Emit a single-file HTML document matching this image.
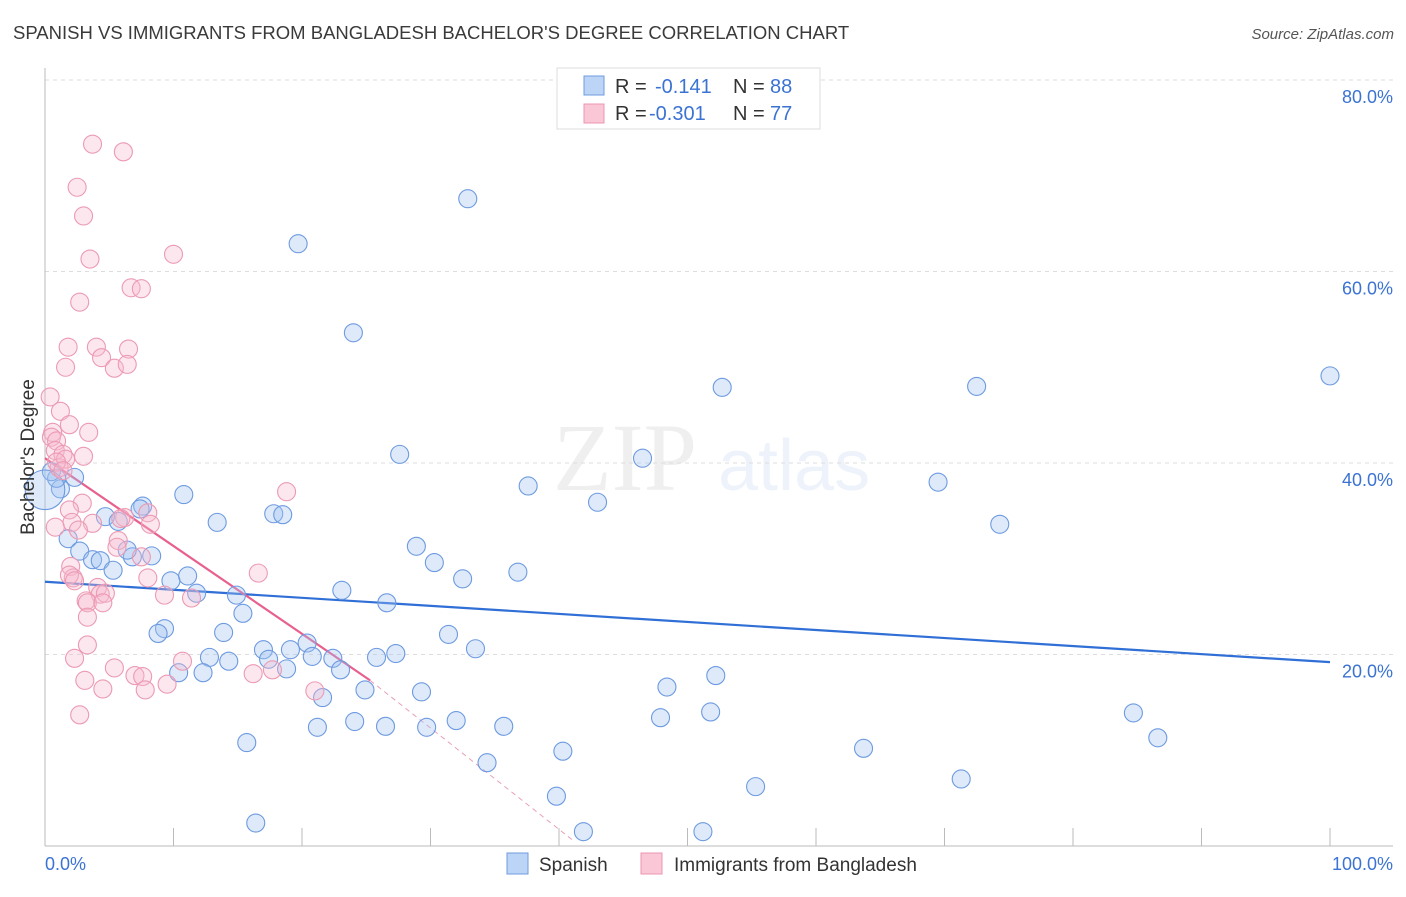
<!DOCTYPE html>
<html><head><meta charset="utf-8">
<style>
body{margin:0;background:#fff;width:1406px;height:892px;overflow:hidden;font-family:"Liberation Sans",sans-serif;}
</style></head>
<body>
<svg id="chart" width="1406" height="892" xmlns="http://www.w3.org/2000/svg">
<text x="13" y="39" font-size="18.5" fill="#3a3a3a">SPANISH VS IMMIGRANTS FROM BANGLADESH BACHELOR'S DEGREE CORRELATION CHART</text>
<text x="1394" y="39" font-size="15" fill="#555" font-style="italic" text-anchor="end">Source: ZipAtlas.com</text>
<g opacity="0.09">
<text x="553" y="490" font-family="Liberation Serif,serif" font-size="96" fill="#555">ZIP</text>
<text x="718" y="490" font-size="72" fill="#4a7fd6">atlas</text>
</g>
<g id="grid"></g>
<g id="axes"></g>
<g id="trend"></g>
<g id="points"></g>
<text transform="translate(34,457) rotate(-90)" font-size="19" fill="#333" text-anchor="middle">Bachelor's Degree</text>
<g>
<rect x="557" y="68" width="263" height="61" fill="#fff" stroke="#ddd"/>
<rect x="584" y="76" width="20" height="19" fill="#bcd4f5" stroke="#6f9be0"/>
<rect x="584" y="104" width="20" height="19" fill="#f9c7d6" stroke="#ec95b0"/>
<text x="615" y="93" font-size="20" fill="#333">R = </text>
<text x="655" y="93" font-size="20" fill="#3b73d3">-0.141</text>
<text x="733" y="93" font-size="20" fill="#333">N = </text>
<text x="770" y="93" font-size="20" fill="#3b73d3">88</text>
<text x="615" y="120" font-size="20" fill="#333">R = </text>
<text x="649" y="120" font-size="20" fill="#3b73d3">-0.301</text>
<text x="733" y="120" font-size="20" fill="#333">N = </text>
<text x="770" y="120" font-size="20" fill="#3b73d3">77</text>
</g>
<g>
<rect x="507" y="853" width="21" height="21" fill="#bcd4f5" stroke="#6f9be0"/>
<text x="539" y="871" font-size="19" fill="#333">Spanish</text>
<rect x="641" y="853" width="21" height="21" fill="#f9c7d6" stroke="#ec95b0"/>
<text x="674" y="871" font-size="19" fill="#333">Immigrants from Bangladesh</text>
</g>
</svg>
<script>
const blueX=[32.9,19.7,24.0,100,52.7,72.5,27.6,46.5,37.6,69.5,43.0,10.8,7.6,7.4,4.7,5.7,13.4,17.8,18.5,74.3,1.8,8.3,2.7,28.9,3.7,4.3,6.8,6.4,5.3,30.3,32.5,36.8,9.8,11.1,14.9,11.8,23.1,26.6,15.4,9.3,8.8,13.9,31.4,20.4,17.0,19.1,12.8,14.3,17.4,20.8,22.4,25.8,27.3,33.5,10.4,12.3,18.8,23.0,24.9,29.3,48.4,52.2,21.6,24.1,26.5,21.2,29.7,32.0,35.7,47.9,51.8,84.7,15.7,40.3,63.7,86.6,34.4,71.3,55.3,39.8,16.4,41.9,51.2,1.2,0.9,2.3,0.5,0];
const blueY=[67.6,62.9,53.6,49.1,47.9,48.0,40.9,40.5,37.6,38.0,35.9,36.7,35.5,35.2,34.4,33.9,33.8,34.7,34.6,33.6,32.1,30.3,30.8,31.3,29.9,29.8,30.2,30.9,28.8,29.6,27.9,28.6,27.7,28.2,26.2,26.4,26.7,25.4,24.3,22.7,22.2,22.3,22.1,21.2,20.5,20.5,19.7,19.3,19.5,19.8,19.6,19.7,20.1,20.6,18.1,18.1,18.5,18.4,16.3,16.1,16.6,17.8,15.5,13.0,12.5,12.4,12.4,13.1,12.5,13.4,14.0,13.9,10.8,9.9,10.2,11.3,8.7,7.0,6.2,5.2,2.4,1.5,1.5,37.3,38.4,38.5,39.1,37.2];
const blueSize=blueX.map((v,i)=>i===blueX.length-1?2.2:1);
const pinkX=[3.7,6.1,2.5,3.0,3.5,10.0,6.7,7.5,2.7,1.8,4.0,6.5,4.4,1.6,5.4,6.4,0.4,1.2,1.9,0.6,3.4,0.5,0.9,3.0,0.8,1.4,1.1,1.6,0.9,1.4,18.8,2.9,1.9,8.0,6.2,8.2,3.7,5.9,2.1,2.6,0.8,5.7,5.6,7.5,2.0,2.2,1.9,8.0,2.3,4.1,4.3,3.2,16.6,9.3,4.7,11.4,3.3,3.3,4.5,3.3,2.3,10.7,16.2,7.0,7.6,17.7,5.4,3.1,4.5,7.8,9.5,21.0,2.7];
const pinkY=[73.3,72.5,68.8,65.8,61.3,61.8,58.3,58.2,56.8,52.1,52.1,51.9,51.0,50.0,49.9,50.3,46.9,45.4,44.0,43.2,43.2,42.7,42.3,40.7,41.3,40.9,39.5,40.4,40.1,39.2,37.0,35.8,35.1,34.8,34.3,33.6,33.7,34.2,33.8,33.0,33.3,31.9,31.2,30.2,29.2,28.0,28.3,28.0,27.7,27.0,26.3,25.6,28.5,26.2,26.4,25.9,25.4,23.9,25.4,21.0,19.6,19.3,18.0,17.8,17.7,18.4,18.6,17.3,16.4,16.3,16.9,16.2,13.7];
const blueTrend=[27.6,19.2];
const pinkTrend=[40.5,-0.917];
const yTicks=[20,40,60,80];
const xTicks=[0,10,20,30,40,50,60,70,80,90,100];

const NS="http://www.w3.org/2000/svg";
const xs=v=>45+v*12.85;
const ys=v=>846-v*9.575;
function mk(tag,attrs,parent){const e=document.createElementNS(NS,tag);for(const k in attrs)e.setAttribute(k,attrs[k]);parent.appendChild(e);return e;}
const grid=document.getElementById('grid'),axes=document.getElementById('axes'),trend=document.getElementById('trend'),pts=document.getElementById('points');
yTicks.forEach(t=>{
 const l=mk('line',{x1:45,x2:1393,y1:ys(t),y2:ys(t),stroke:'#ddd','stroke-dasharray':'4,4'},grid);
 
 
 const tx=mk('text',{x:1393,y:ys(t)+23,'font-size':18,fill:'#3b73d3','text-anchor':'end'},grid);
 tx.textContent=t.toFixed(1)+'%';
 
 
});
const al=mk('line',{x1:45,x2:45,y1:68,y2:846,stroke:'#bbb'},axes);


const bl=mk('line',{x1:45,x2:1393,y1:846,y2:846,stroke:'#bbb'},axes);


xTicks.forEach(t=>{
 const l=mk('line',{x1:xs(t),x2:xs(t),y1:828,y2:846,stroke:'#bbb'},axes);
 
 
});
[[0,'0.0%','start',45],[100,'100.0%','end',1393]].forEach(d=>{
 const tx=mk('text',{x:d[3],y:870,'font-size':18,fill:'#3b73d3','text-anchor':d[2]},axes);
 tx.textContent=d[1];
 
 
});
blueX.forEach((v,i)=>{
 const c=mk('circle',{cx:xs(v),cy:ys(blueY[i]),r:9*blueSize[i],fill:'rgba(160,195,240,0.35)',stroke:'#6d9ae0','stroke-width':1.1},pts);
 
 
});
pinkX.forEach((v,i)=>{
 const c=mk('circle',{cx:xs(v),cy:ys(pinkY[i]),r:9,fill:'rgba(247,185,205,0.35)',stroke:'#ec9ab3','stroke-width':1.1},pts);
 
 
});
const bt=mk('line',{x1:xs(0),y1:ys(blueTrend[0]),x2:xs(100),y2:ys(blueTrend[1]),stroke:'#2f6fd6','stroke-width':2.2},trend);


const pEnd=25.3, pZero=-pinkTrend[0]/pinkTrend[1]*0.93;
const pt=mk('line',{x1:xs(0),y1:ys(pinkTrend[0]),x2:xs(pEnd),y2:ys(pinkTrend[0]+pinkTrend[1]*pEnd),stroke:'#e8608e','stroke-width':2.2},trend);


const pd=mk('line',{x1:xs(pEnd),y1:ys(pinkTrend[0]+pinkTrend[1]*pEnd),x2:xs(pZero),y2:ys(0.6),stroke:'#e8a0b8','stroke-width':1,'stroke-dasharray':'5,4'},trend);


</script>
</body></html>
